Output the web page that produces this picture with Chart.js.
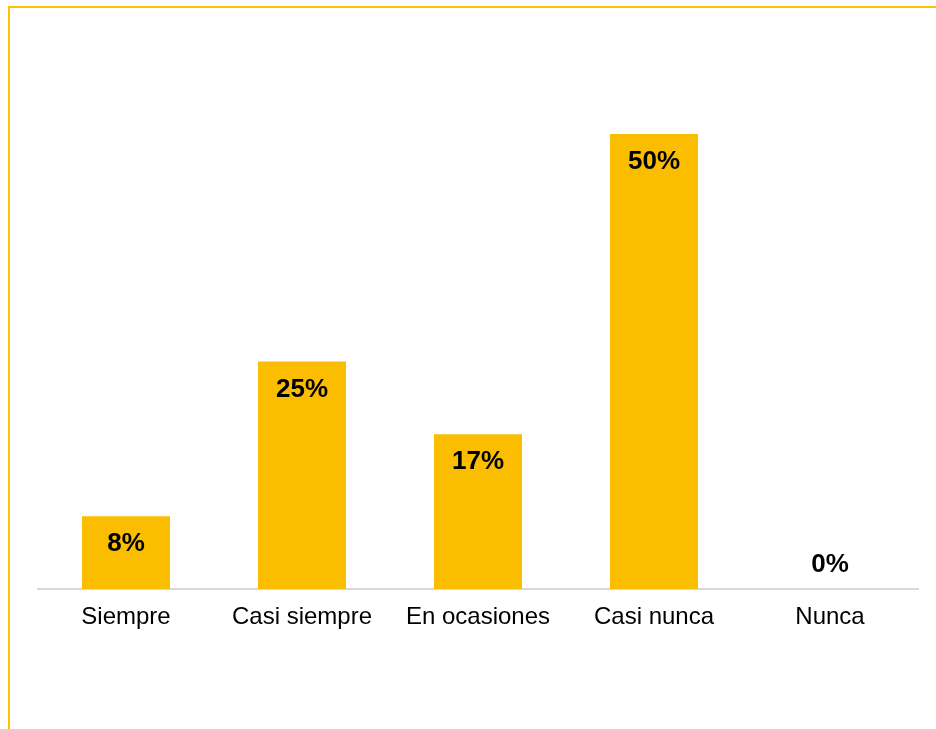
<!DOCTYPE html>
<html>
<head>
<meta charset="utf-8">
<script src="https://cdn.jsdelivr.net/npm/chart.js@4/dist/chart.umd.min.js"></script>
<style>
  html, body { margin: 0; padding: 0; background: #fff; }
  #wrap { position: relative; width: 936px; height: 729px; overflow: hidden; }
  #frame { position: absolute; left: 8px; top: 6px; width: 2000px; height: 2000px;
           border-top: 2px solid #FFC000; border-left: 2px solid #FFC000; box-sizing: border-box; }
  canvas { position: absolute; left: 0; top: 0; }
</style>
</head>
<body>
<div id="wrap">
  <div id="frame"></div>
  <canvas id="c" width="936" height="729"></canvas>
</div>
<script>
const categories = ["Siempre", "Casi siempre", "En ocasiones", "Casi nunca", "Nunca"];
const percentages = [8, 25, 17, 50, 0];

const FONT = "'Liberation Sans', Arial, sans-serif";

// Percentage labels inside the top of each bar (above the baseline when zero)
const valueLabels = {
  id: 'valueLabels',
  afterDatasetsDraw(chart) {
    const ctx = chart.ctx;
    const meta = chart.getDatasetMeta(0);
    ctx.save();
    ctx.font = "bold 26px " + FONT;
    ctx.fillStyle = "#000";
    ctx.textAlign = "center";
    ctx.textBaseline = "middle";
    meta.data.forEach((bar, i) => {
      const v = percentages[i];
      const y = v > 0 ? bar.y + 28 : bar.y - 24;
      ctx.fillText(v + "%", bar.x, y);
    });
    ctx.restore();
  }
};

new Chart(document.getElementById('c'), {
  type: 'bar',
  data: {
    labels: categories,
    datasets: [{
      data: percentages,
      backgroundColor: '#FABD00',
      borderWidth: 0,
      categoryPercentage: 1,
      barPercentage: 0.5
    }]
  },
  options: {
    responsive: false,
    animation: false,
    layout: { padding: { left: 38, right: 18, top: 43, bottom: 0 } },
    plugins: { legend: { display: false }, tooltip: { enabled: false } },
    scales: {
      x: {
        grid: { display: false, drawTicks: false },
        border: { display: true, color: '#D9D9D9', width: 2 },
        ticks: { color: '#000', font: { family: FONT, size: 24 }, padding: 14, maxRotation: 0 },
        afterFit(scale) { scale.height = 140; }
      },
      y: {
        display: false,
        min: 0,
        max: 60
      }
    }
  },
  plugins: [valueLabels]
});
</script>
</body>
</html>
